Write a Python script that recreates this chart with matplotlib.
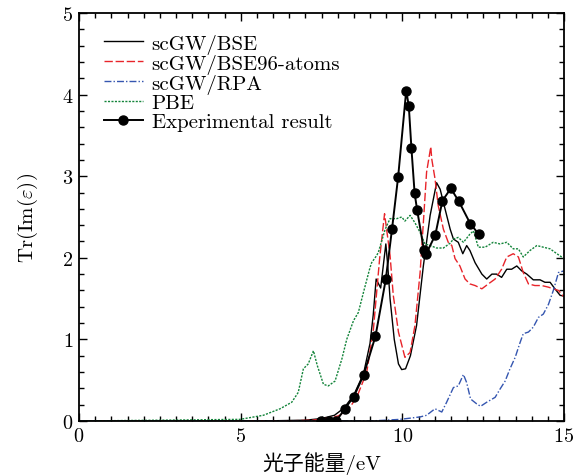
import matplotlib
matplotlib.use("Agg")
import matplotlib.pyplot as plt
from matplotlib.ticker import MultipleLocator

plt.rcParams['font.family'] = ['cmr10', 'Noto Sans CJK SC', 'DejaVu Sans']
plt.rcParams['mathtext.fontset'] = 'cm'
plt.rcParams['axes.formatter.use_mathtext'] = True

# scGW/BSE
bse_x = [0.0, 6.0, 7.0, 7.5, 7.9, 8.2, 8.5, 8.8, 9.0, 9.1, 9.19, 9.33, 9.49, 9.55, 9.62, 9.75,
         9.88, 9.98, 10.1, 10.25, 10.44, 10.65, 10.86, 11.06, 11.17, 11.32, 11.48, 11.58,
         11.73, 11.87, 11.99, 12.09, 12.25, 12.46, 12.61, 12.77, 12.92, 13.07, 13.23, 13.38,
         13.54, 13.69, 13.85, 14.05, 14.26, 14.41, 14.57, 14.72, 14.88, 15.0]
bse_y = [0.0, 0.003, 0.01, 0.03, 0.07, 0.16, 0.32, 0.58, 0.95, 1.3, 1.74, 1.63, 2.17, 1.9, 1.5, 1.0,
         0.7, 0.63, 0.64, 0.8, 1.17, 1.9, 2.52, 2.92, 2.84, 2.60, 2.35, 2.23,
         2.19, 2.05, 2.15, 2.09, 1.94, 1.80, 1.74, 1.80, 1.80, 1.76, 1.86, 1.86,
         1.90, 1.84, 1.80, 1.73, 1.73, 1.70, 1.70, 1.62, 1.54, 1.53]

# scGW/BSE96-atoms
bse96_x = [0.0, 6.5, 7.2, 7.5, 8.0, 8.3, 8.6, 8.9, 9.1, 9.3, 9.45, 9.62, 9.72, 9.88, 10.08, 10.24,
           10.39, 10.55, 10.65, 10.75, 10.88, 10.91, 11.01, 11.11, 11.27, 11.42, 11.53, 11.63,
           11.78, 11.94, 12.09, 12.25, 12.46, 12.66, 12.87, 13.07, 13.23, 13.43, 13.59, 13.74,
           13.90, 14.10, 14.31, 14.52, 14.67, 14.83, 15.0]
bse96_y = [0.0, 0.002, 0.01, 0.02, 0.06, 0.12, 0.3, 0.6, 1.1, 2.0, 2.54, 2.03, 1.54, 1.09, 0.78, 0.84,
           1.17, 1.82, 2.43, 3.05, 3.36, 3.21, 2.97, 2.64, 2.35, 2.19, 2.15, 1.99,
           1.90, 1.74, 1.68, 1.66, 1.62, 1.68, 1.74, 1.86, 2.01, 2.05, 2.01, 1.82,
           1.68, 1.66, 1.66, 1.64, 1.62, 1.60, 1.52]

# scGW/RPA
rpa_x = [0.0, 9.0, 9.93, 10.55, 10.75, 11.01, 11.22, 11.37, 11.58, 11.73, 11.89, 11.99, 12.11,
         12.30, 12.42, 12.61, 12.87, 13.02, 13.18, 13.33, 13.49, 13.64, 13.74, 13.90, 14.05,
         14.21, 14.36, 14.52, 14.67, 14.83, 15.0]
rpa_y = [0.0, 0.0, 0.02, 0.05, 0.07, 0.15, 0.11, 0.23, 0.41, 0.43, 0.57, 0.47, 0.27,
         0.21, 0.18, 0.23, 0.29, 0.39, 0.49, 0.64, 0.78, 0.96, 1.07, 1.09, 1.15,
         1.27, 1.31, 1.43, 1.60, 1.82, 1.84]

# PBE
pbe_x = [0.0, 4.98, 5.70, 6.22, 6.58, 6.78, 6.94, 7.09, 7.25, 7.37, 7.56, 7.71, 7.92, 8.13, 8.28,
         8.49, 8.64, 8.80, 9.0, 9.05, 9.21, 9.26, 9.47, 9.62, 9.83, 9.98, 10.08, 10.24, 10.39,
         10.55, 10.70, 10.86, 11.06, 11.27, 11.48, 11.58, 11.73, 11.89, 12.09, 12.20, 12.35,
         12.56, 12.81, 13.02, 13.23, 13.43, 13.59, 13.74, 13.95, 14.16, 14.36, 14.57, 14.78, 15.0]
pbe_y = [0.0, 0.02, 0.07, 0.15, 0.23, 0.35, 0.64, 0.70, 0.86, 0.68, 0.45, 0.43, 0.49, 0.76, 1.0,
         1.23, 1.33, 1.58, 1.88, 1.94, 2.03, 2.07, 2.35, 2.48, 2.48, 2.50, 2.45, 2.52, 2.43,
         2.31, 2.17, 2.15, 2.12, 2.12, 2.18, 2.23, 2.25, 2.19, 2.29, 2.33, 2.13,
         2.13, 2.19, 2.17, 2.19, 2.11, 2.11, 2.01, 2.09, 2.15, 2.13, 2.11, 2.05, 1.99]

# Experimental result
exp_x = [7.49, 7.72, 7.96, 8.22, 8.50, 8.80, 9.17, 9.49, 9.68, 9.87, 10.12, 10.20, 10.28, 10.38,
         10.46, 10.67, 10.74, 11.02, 11.24, 11.50, 11.75, 12.10, 12.36]
exp_y = [0.0, 0.0, 0.0, 0.15, 0.30, 0.56, 1.04, 1.74, 2.35, 2.99, 4.05, 3.86, 3.35, 2.79,
         2.58, 2.09, 2.05, 2.28, 2.70, 2.85, 2.69, 2.42, 2.29]

fig = plt.figure(figsize=(5.82, 4.77), dpi=100)
ax = fig.add_axes([79 / 582, 1 - 422 / 477, (564 - 79) / 582, (422 - 14) / 477])

ax.plot(bse_x, bse_y, color='black', lw=1.0, label='scGW/BSE')
ax.plot(bse96_x, bse96_y, color='#e8242a', lw=1.0, ls=(0, (6, 2)), label='scGW/BSE96-atoms')
ax.plot(rpa_x, rpa_y, color='#3556b0', lw=1.0, ls=(0, (5, 1.5, 1, 1.5)), label='scGW/RPA')
ax.plot(pbe_x, pbe_y, color='#13843a', lw=1.0, ls=(0, (1.5, 1)), label='PBE')
ax.plot(exp_x, exp_y, color='black', lw=1.4, marker='o', ms=6.5, label='Experimental result')

ax.set_xlim(0, 15)
ax.set_ylim(0, 5)
ax.xaxis.set_major_locator(MultipleLocator(5))
ax.xaxis.set_minor_locator(MultipleLocator(0.5))
ax.yaxis.set_major_locator(MultipleLocator(1))
ax.yaxis.set_minor_locator(MultipleLocator(0.2))
ax.tick_params(which='both', direction='in', top=True, right=True, labelsize=14.5, width=1.0)
ax.tick_params(which='major', length=6, pad=4)
ax.tick_params(which='minor', length=3.5)
for s in ax.spines.values():
    s.set_linewidth(1.3)

ax.set_xlabel('光子能量/eV', fontsize=15, labelpad=5)
ax.set_ylabel(r'$\mathrm{Tr}(\mathrm{Im}(\varepsilon))$', fontsize=15, labelpad=16)

ax.legend(loc='upper left', bbox_to_anchor=(0.025, 0.98), frameon=False, fontsize=15,
          handlelength=1.9, handletextpad=0.4, labelspacing=0.0, borderaxespad=0.2)

fig.savefig('out.png', dpi=100)
